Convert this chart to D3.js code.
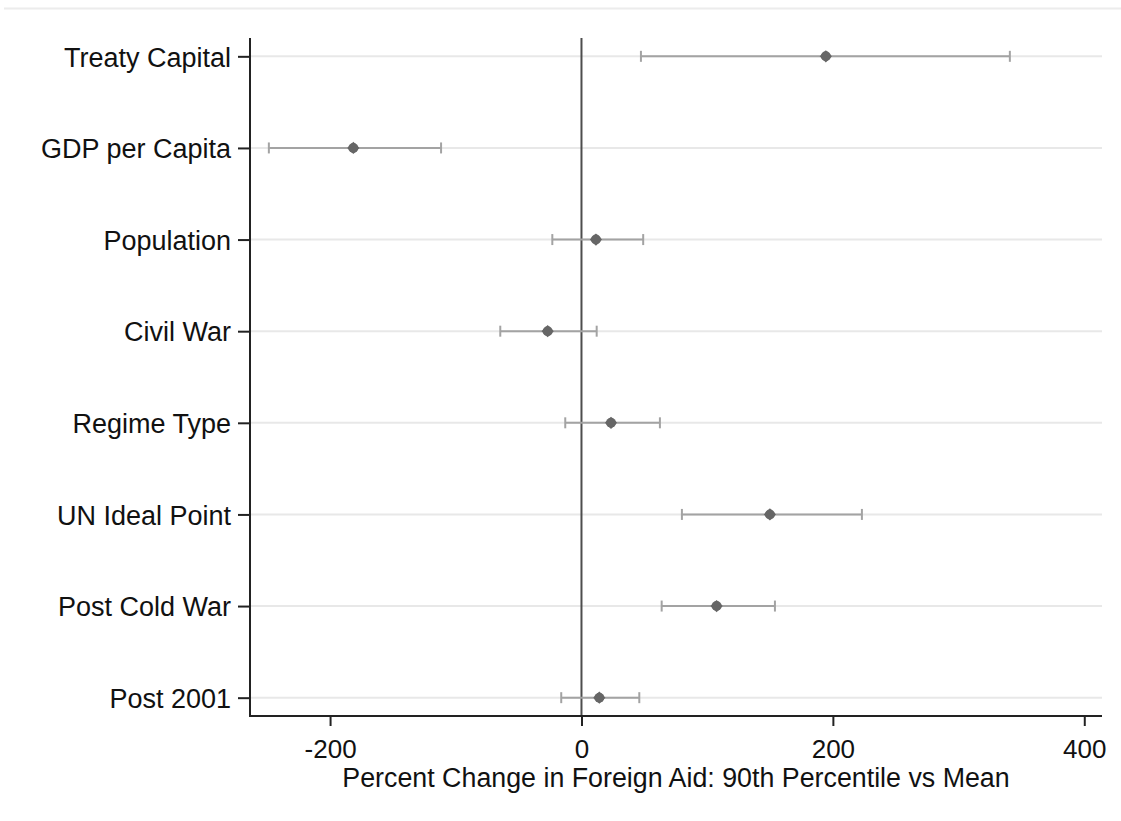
<!DOCTYPE html>
<html>
<head>
<meta charset="utf-8">
<script src="https://cdn.jsdelivr.net/npm/d3@7"></script>
<style>
  body { margin: 0; background: #fff; }
  text { font-family: "Liberation Sans", Arial, sans-serif; }
</style>
</head>
<body>
<script>
// values
var labels = ["Treaty Capital", "GDP per Capita", "Population", "Civil War",
              "Regime Type", "UN Ideal Point", "Post Cold War", "Post 2001"];
var est   = [194.4, -181.5, 11.5, -26.9, 23.5, 149.9, 107.5, 14.2];
var lower = [47.3, -248.7, -23.2, -64.6, -12.9, 79.9, 63.8, -16.1];
var upper = [340.8, -111.7, 49.1, 12.1, 62.4, 223.1, 153.9, 46.0];
var xTicks = [-200, 0, 200, 400];

function drawChart() {
    var width = 1121, height = 821;
    var pLeft = 250, pRight = 1102, pTop = 38, pBottom = 716;

    var svg = d3.select("body").append("svg")
        .attr("width", width)
        .attr("height", height);

    var rows = labels.map(function(d, i) {
        return { name: d, est: est[i], lo: lower[i], hi: upper[i] };
    });

    var x = d3.scaleLinear().domain([-263.7, 414.1]).range([pLeft, pRight]);
    var y = d3.scalePoint().domain(labels).range([pTop, pBottom]).padding(0.2);

    // faint border line at the top of the graph region
    svg.append("line")
        .attr("x1", 4).attr("x2", width)
        .attr("y1", 8.5).attr("y2", 8.5)
        .attr("stroke", "#ececec").attr("stroke-width", 2);

    // horizontal grid lines
    svg.append("g").selectAll("line")
        .data(labels).enter()
        .append("line")
        .attr("x1", pLeft).attr("x2", pRight)
        .attr("y1", function(d) { return y(d); })
        .attr("y2", function(d) { return y(d); })
        .attr("stroke", "#e8e8e8")
        .attr("stroke-width", 2);

    // zero reference line
    svg.append("line")
        .attr("x1", x(0)).attr("x2", x(0))
        .attr("y1", pTop).attr("y2", pBottom)
        .attr("stroke", "#4d4d4d")
        .attr("stroke-width", 2);

    // confidence intervals
    var bars = svg.append("g").selectAll("g")
        .data(rows).enter()
        .append("g")
        .attr("stroke", "#a3a3a3")
        .attr("stroke-width", 2);

    bars.append("line")
        .attr("x1", function(d) { return x(d.lo); })
        .attr("x2", function(d) { return x(d.hi); })
        .attr("y1", function(d) { return y(d.name); })
        .attr("y2", function(d) { return y(d.name); });

    bars.append("line")
        .attr("x1", function(d) { return x(d.lo); })
        .attr("x2", function(d) { return x(d.lo); })
        .attr("y1", function(d) { return y(d.name) - 5.5; })
        .attr("y2", function(d) { return y(d.name) + 5.5; });

    bars.append("line")
        .attr("x1", function(d) { return x(d.hi); })
        .attr("x2", function(d) { return x(d.hi); })
        .attr("y1", function(d) { return y(d.name) - 5.5; })
        .attr("y2", function(d) { return y(d.name) + 5.5; });

    // point estimates (rounded diamond)
    var pts = svg.append("g").selectAll("g")
        .data(rows).enter()
        .append("g")
        .attr("fill", "#666")
        .attr("transform", function(d) { return "translate(" + x(d.est) + "," + y(d.name) + ")"; });

    pts.append("path")
        .attr("d", d3.symbol().type(d3.symbolDiamond2).size(96));
    pts.append("circle")
        .attr("r", 5);

    // axes
    var xAxis = svg.append("g")
        .attr("transform", "translate(0," + pBottom + ")")
        .call(d3.axisBottom(x).tickValues(xTicks).tickFormat(function(d) { return String(d); })
            .tickSize(10).tickPadding(14).tickSizeOuter(0));

    var yAxis = svg.append("g")
        .attr("transform", "translate(" + pLeft + ",0)")
        .call(d3.axisLeft(y).tickSize(12).tickPadding(7).tickSizeOuter(0));

    [xAxis, yAxis].forEach(function(g) {
        g.select(".domain").attr("stroke", "#222").attr("stroke-width", 2);
        g.selectAll(".tick line").attr("stroke", "#222").attr("stroke-width", 2);
        g.selectAll(".tick text")
            .attr("fill", "#111")
            .style("font-size", "26px")
            .style("font-family", "'Liberation Sans', Arial, sans-serif");
    });

    xAxis.select(".domain").attr("d", "M" + (pLeft - 1) + ",0H" + pRight);
    yAxis.select(".domain").attr("d", "M0," + pTop + "V" + (pBottom + 1));
    yAxis.selectAll(".tick text").attr("dy", "0.36em").style("font-size", "27px");

    // x axis title
    svg.append("text")
        .attr("x", (pLeft + pRight) / 2)
        .attr("y", 787)
        .attr("text-anchor", "middle")
        .attr("fill", "#111")
        .style("font-size", "26.8px")
        .text("Percent Change in Foreign Aid: 90th Percentile vs Mean");
}

drawChart();
</script>
</body>
</html>
